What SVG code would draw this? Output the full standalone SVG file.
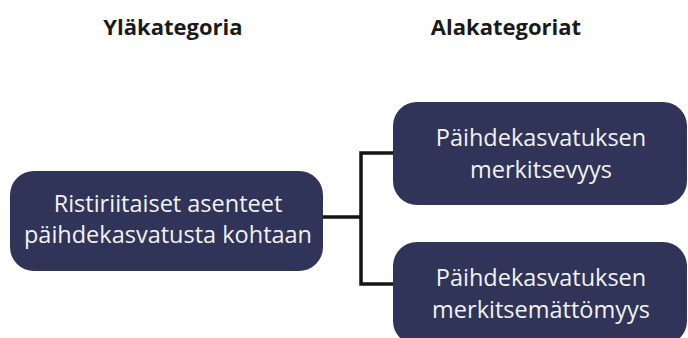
<svg xmlns="http://www.w3.org/2000/svg" width="688" height="338" viewBox="0 0 688 338">
<style>
.box{fill:#2f3458;}
.t{font-family:"Open Sans","Noto Sans",sans-serif;font-size:23.5px;fill:#f2f2f4;text-anchor:middle;}
.h{font-family:"Open Sans","Noto Sans",sans-serif;font-size:22px;font-weight:bold;fill:#1a1a1a;text-anchor:middle;}
.c{fill:none;stroke:#141414;stroke-width:3.5;stroke-linejoin:miter;}
</style>
<rect width="688" height="338" fill="#ffffff"/>
<g id="headers">
<text class="h" x="173" y="35">Yläkategoria</text>
<text class="h" x="506" y="35">Alakategoriat</text>
</g>
<g id="connectors">
<path class="c" d="M323 217 H361 M395 153 H361 V284 H395"/>
</g>
<g id="node-parent">
<rect class="box" x="10" y="171" width="313" height="100" rx="24"/>
<text class="t" x="168" y="212">Ristiriitaiset asenteet</text>
<text class="t" x="168" y="243">päihdekasvatusta kohtaan</text>
</g>
<g id="node-child1">
<rect class="box" x="393" y="102" width="294" height="103" rx="24"/>
<text class="t" x="541" y="146">Päihdekasvatuksen</text>
<text class="t" x="541" y="178">merkitsevyys</text>
</g>
<g id="node-child2">
<rect class="box" x="393" y="242" width="294" height="103" rx="24"/>
<text class="t" x="541" y="286">Päihdekasvatuksen</text>
<text class="t" x="541" y="318">merkitsemättömyys</text>
</g>
</svg>
